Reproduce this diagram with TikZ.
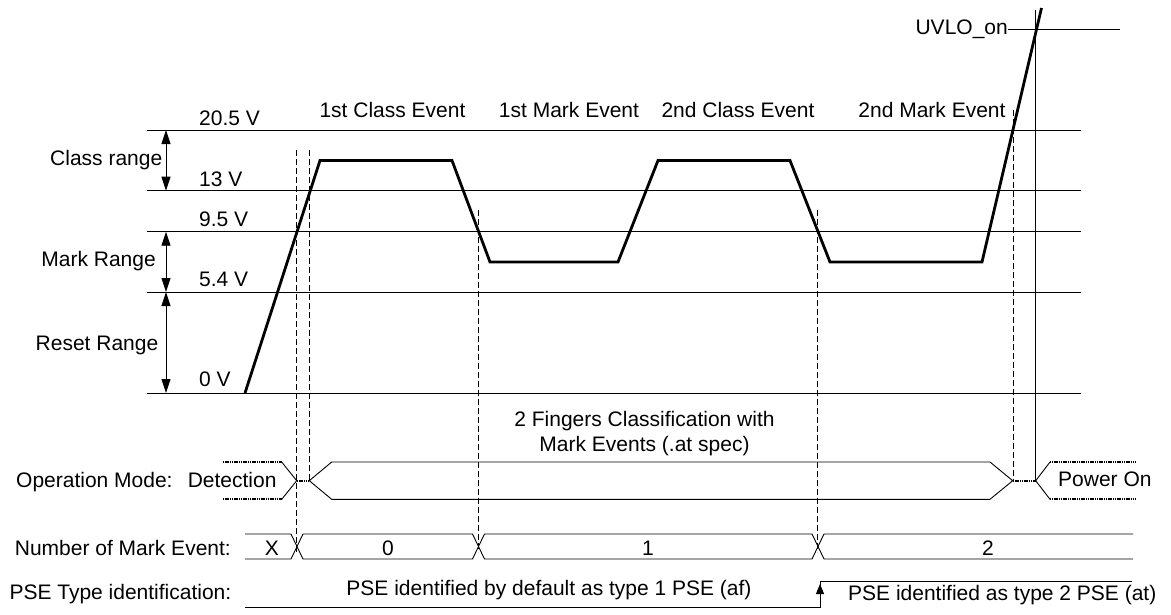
\documentclass[tikz,border=0pt]{standalone}
\usepackage{fontspec}
\setmainfont{Liberation Sans}
\usetikzlibrary{arrows.meta}
\begin{document}
\begin{tikzpicture}[x=1pt,y=-1pt,
  thinl/.style={line width=0.9pt},
  wave/.style={line width=2.8pt,line join=miter},
  dashv/.style={line width=1pt,dash pattern=on 6pt off 3pt},
  dotl/.style={line width=1.8pt,dash pattern=on 1.2pt off 0.6pt},
  lbl/.style={inner sep=0pt,font=\fontsize{21}{25}\selectfont},
  rng/.style={line width=0.9pt,{Triangle[width=9pt,length=14pt]}-{Triangle[width=9pt,length=14pt]}},
  upar/.style={line width=0.9pt,-{Triangle[width=8pt,length=10pt]}}]
\useasboundingbox (0,0) rectangle (1171,614);
% voltage levels
\foreach \yy/\nm in {130/l205,190.7/l13,231.7/l95,292/l54,393/l0}{
  \coordinate (\nm a) at (147,\yy);
  \coordinate (\nm b) at (1081,\yy);
  \draw[thinl] (\nm a) -- (\nm b);
}
\node[lbl,anchor=base west] (v205) at (199,125) {20.5 V};
\node[lbl,anchor=base west] (v13) at (199,186) {13 V};
\node[lbl,anchor=base west] (v95) at (199,226) {9.5 V};
\node[lbl,anchor=base west] (v54) at (199,286.7) {5.4 V};
\node[lbl,anchor=base west] (v0) at (199,386.7) {0 V};
% ranges
\coordinate (r1) at (166,130); \coordinate (r2) at (166,190.7);
\coordinate (r3) at (166,231.7); \coordinate (r4) at (166,292);
\coordinate (r5) at (166,393);
\draw[rng] (r1) -- (r2);
\draw[rng] (r3) -- (r4);
\draw[rng] (r4) -- (r5);
\node[lbl,anchor=base east] (cr) at (162.5,165) {Class range};
\node[lbl,anchor=base east] (mr) at (156,266.7) {Mark Range};
\node[lbl,anchor=base east] (rr) at (158.5,350) {Reset Range};
% events
\node[lbl,anchor=base] (e1) at (392.5,117.3) {1st Class Event};
\node[lbl,anchor=base] (e2) at (569,117.3) {1st Mark Event};
\node[lbl,anchor=base] (e3) at (738,117.3) {2nd Class Event};
\node[lbl,anchor=base] (e4) at (932,117.3) {2nd Mark Event};
% UVLO
\node[lbl,anchor=base east] (uv) at (1008,34.3) {UVLO\_on};
\coordinate (uvb) at (1120,29.3);
\draw[thinl] (uv.east |- uvb) -- (uvb);
% dashed markers
\draw[dashv] (296.7,150) -- (296.7,552);
\draw[dashv] (309.3,150) -- (309.3,481);
\draw[dashv] (478.3,210) -- (478.3,552);
\draw[dashv] (817.7,210) -- (817.7,552);
\draw[dashv] (1013,110) -- (1013,481);
\draw[thinl] (1035.7,10) -- (1035.7,481);
% waveform
\draw[wave] (245,393) -- (320,160.5) -- (452,160.5) -- (490,262) -- (618,262)
  -- (658,160.5) -- (790,160.5) -- (830,262) -- (982,262) -- (1041.5,8);
% operation mode
\node[lbl,anchor=base west] (om) at (16,487.3) {Operation Mode:};
\node[lbl,anchor=base east] (det) at (276.7,487.3) {Detection};
\node[lbl,anchor=base west] (pon) at (1058,486.7) {Power On};
\node[lbl,anchor=base] (fc1) at (644.5,426.7) {2 Fingers Classification with};
\node[lbl,anchor=base] (fc2) at (644.5,451.7) {Mark Events (.at spec)};
\draw[dotl] (222.7,462) -- (281.7,462);
\draw[dotl] (222.7,499.3) -- (281.7,499.3);
\draw[thinl] (281.7,462) -- (296.7,480.7) -- (281.7,499.3);
\draw[dotl] (296.7,480.7) -- (309.3,480.7);
\draw[thinl] (990,462) -- (331.7,462) -- (309.3,480.7) -- (331.7,499.3) -- (990,499.3)
  -- (1012.7,480.7) -- cycle;
\draw[dotl] (1012.7,480.7) -- (1035.7,480.7);
\draw[thinl] (1050,462) -- (1035.7,480.7) -- (1050,499.3);
\draw[dotl] (1050,462) -- (1135.7,462);
\draw[dotl] (1050,499.3) -- (1135.7,499.3);
% number of mark events
\node[lbl,anchor=base west] (nm) at (14.7,555) {Number of Mark Event:};
\draw[thinl] (245,534) -- (291,534) -- (303,559) -- (472.5,559) -- (484.5,534) -- (812,534) -- (824,559) -- (1133,559);
\draw[thinl] (245,559) -- (291,559) -- (303,534) -- (472.5,534) -- (484.5,559) -- (812,559) -- (824,534) -- (1133,534);
\node[lbl,anchor=base] (nx) at (272,555) {X};
\node[lbl,anchor=base] (n0) at (388,555) {0};
\node[lbl,anchor=base] (n1) at (648,555) {1};
\node[lbl,anchor=base] (n2) at (988,555) {2};
% PSE type
\node[lbl,anchor=base west] (pt) at (9.3,599) {PSE Type identification:};
\node[lbl,anchor=base] (p1) at (549,595) {PSE identified by default as type 1 PSE (af)};
\node[lbl,anchor=base west] (p2) at (848,600) {PSE identified as type 2 PSE (at)};
\coordinate (pa) at (245,607);
\coordinate (pb) at (820,607);
\coordinate (pc) at (820,581.7);
\coordinate (pd) at (1132,581.7);
\draw[thinl] (pa) -- (pb) -- (pc) -- (pd);
\draw[upar] (pb) -- (820,584);
\end{tikzpicture}
\end{document}
